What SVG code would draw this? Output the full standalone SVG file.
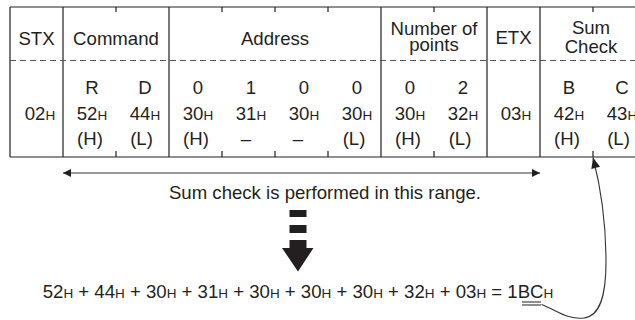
<svg xmlns="http://www.w3.org/2000/svg" width="635" height="320" viewBox="0 0 635 320">
<defs>
<style>
.t{font-family:"Liberation Sans",Arial,Helvetica,sans-serif;font-size:18.6px;fill:#231f20;text-anchor:middle}
.h{font-size:13.5px}
.ln{stroke:#231f20;stroke-width:1.2;fill:none}
.dash{stroke:#555;stroke-width:1;stroke-dasharray:6 4;fill:none}
.con{stroke:#333;stroke-width:1.1;fill:none}
</style>
<marker id="ah" viewBox="0 0 10 10" refX="10" refY="5" markerWidth="10" markerHeight="8" markerUnits="userSpaceOnUse" orient="auto-start-reverse">
<path d="M0,0 L10,5 L0,10 Z" fill="#231f20"/>
</marker>
<marker id="ah2" viewBox="0 0 12 10" refX="12" refY="5" markerWidth="12" markerHeight="9" markerUnits="userSpaceOnUse" orient="auto">
<path d="M0,0 L12,5 L0,10 Z" fill="#231f20"/>
</marker>
</defs>
<rect width="635" height="320" fill="#fff"/>

<g id="table-frame">
<path class="ln" d="M10,7 H635 M10,157 H635 M10,7 V157 M63,7 V157 M169,7 V157 M381,7 V157 M487,7 V157 M540,7 V157"/>
<path class="ln" d="M116,7 V12 M222,7 V12 M275,7 V12 M328,7 V12 M434,7 V12 M593,7 V12 M116,151 V157 M222,151 V157 M275,151 V157 M328,151 V157 M434,151 V157 M593,151 V157"/>
<path class="dash" d="M10,60.5 H635"/>
</g>

<g id="stx">
<text class="t" x="36.5" y="44.5">STX</text>
<text class="t" x="40" y="119.5">02<tspan class="h">H</tspan></text>
</g>

<g id="command">
<text class="t" x="116" y="44.5">Command</text>
<text class="t" x="92" y="93.5">R</text>
<text class="t" x="145" y="93.5">D</text>
<text class="t" x="92" y="119.5">52<tspan class="h">H</tspan></text>
<text class="t" x="145" y="119.5">44<tspan class="h">H</tspan></text>
<text class="t" x="90" y="144.5">(H)</text>
<text class="t" x="141.5" y="144.5">(L)</text>
</g>

<g id="address">
<text class="t" x="275" y="44.5">Address</text>
<text class="t" x="198" y="93.5">0</text>
<text class="t" x="251" y="93.5">1</text>
<text class="t" x="304" y="93.5">0</text>
<text class="t" x="357" y="93.5">0</text>
<text class="t" x="198" y="119.5">30<tspan class="h">H</tspan></text>
<text class="t" x="251" y="119.5">31<tspan class="h">H</tspan></text>
<text class="t" x="304" y="119.5">30<tspan class="h">H</tspan></text>
<text class="t" x="357" y="119.5">30<tspan class="h">H</tspan></text>
<text class="t" x="196" y="144.5">(H)</text>
<text class="t" x="246" y="144.5">–</text>
<text class="t" x="298" y="144.5">–</text>
<text class="t" x="354" y="144.5">(L)</text>
</g>

<g id="number-of-points">
<text class="t" x="434" y="35">Number of</text>
<text class="t" x="434" y="50.5">points</text>
<text class="t" x="410" y="93.5">0</text>
<text class="t" x="463" y="93.5">2</text>
<text class="t" x="410" y="119.5">30<tspan class="h">H</tspan></text>
<text class="t" x="463" y="119.5">32<tspan class="h">H</tspan></text>
<text class="t" x="408" y="144.5">(H)</text>
<text class="t" x="460" y="144.5">(L)</text>
</g>

<g id="etx">
<text class="t" x="513.5" y="44">ETX</text>
<text class="t" x="516" y="119.5">03<tspan class="h">H</tspan></text>
</g>

<g id="sum-check">
<text class="t" x="591" y="33.5">Sum</text>
<text class="t" x="591" y="53">Check</text>
<text class="t" x="569" y="93.5">B</text>
<text class="t" x="622" y="93.5">C</text>
<text class="t" x="569" y="119.5">42<tspan class="h">H</tspan></text>
<text class="t" x="622" y="119.5">43<tspan class="h">H</tspan></text>
<text class="t" x="567" y="144.5">(H)</text>
<text class="t" x="618.5" y="144.5">(L)</text>
</g>

<g id="range-label">
<text class="t" x="325" y="199">Sum check is performed in this range.</text>
</g>

<g id="down-arrow" fill="#231f20">
<rect x="289.5" y="210" width="17" height="7"/>
<rect x="289.5" y="225" width="17" height="8"/>
<polygon points="289.5,240 306.5,240 306.5,248 313.5,248 298,271.5 282,248 289.5,248"/>
</g>

<g id="formula">
<text class="t" x="298" y="298">52<tspan class="h">H</tspan> + 44<tspan class="h">H</tspan> + 30<tspan class="h">H</tspan> + 31<tspan class="h">H</tspan> + 30<tspan class="h">H</tspan> + 30<tspan class="h">H</tspan> + 30<tspan class="h">H</tspan> + 32<tspan class="h">H</tspan> + 03<tspan class="h">H</tspan> = 1BC<tspan class="h">H</tspan></text>
<path class="ln" d="M522,302 H541 M522,305 H541" stroke-width="1"/>
</g>

<g id="connectors">
<path class="con" d="M63,173 H540" marker-start="url(#ah)" marker-end="url(#ah)"/>
<path class="con" d="M541.5,304.5 C558,311 568,320 584,318 C600,316 606,296 606,262 C606,225 602,192 593,157.5" marker-end="url(#ah2)"/>
</g>
</svg>
